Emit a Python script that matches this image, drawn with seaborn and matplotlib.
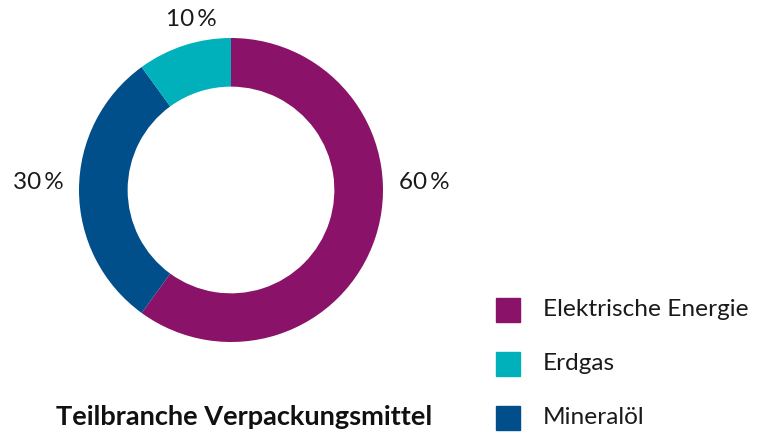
import matplotlib.pyplot as plt
import seaborn as sns
from matplotlib.patches import Rectangle

# Daten
kategorien = ['Elektrische Energie', 'Erdgas', 'Mineralöl']
anteile = [60, 10, 30]
farben = ['#8A1268', '#00B1BC', '#004F8B']
titel = 'Teilbranche Verpackungsmittel'

sns.set_style('white')
plt.rcParams['font.family'] = ['Lato', 'DejaVu Sans']

fig = plt.figure(figsize=(7.66, 4.32), dpi=100)
ax = fig.add_axes([79 / 766, 90 / 432, 304 / 766, 304 / 432])

# Reihenfolge im Uhrzeigersinn ab 12 Uhr: Elektrische Energie, Mineralöl, Erdgas
reihenfolge = [0, 2, 1]
ax.pie([anteile[i] for i in reihenfolge],
       colors=[farben[i] for i in reihenfolge],
       startangle=90, counterclock=False,
       wedgeprops=dict(width=0.32, linewidth=0))
ax.set_xlim(-1, 1)
ax.set_ylim(-1, 1)
ax.set_aspect('equal')
ax.axis('off')

# Prozentangaben
pos = {0: (1.27, 0.05), 1: (-0.26, 1.12), 2: (-1.27, 0.05)}
for i, v in enumerate(anteile):
    x, y = pos[i]
    ax.text(x, y, f'{v}\u2009%', ha='center', va='center', fontsize=17.5,
            color='#1a1a1a', clip_on=False)

# Legende
for i, (k, c) in enumerate(zip(kategorien, farben)):
    y = 1 - (310 + 54 * i) / 432
    fig.add_artist(Rectangle((496 / 766, y - 12 / 432), 24 / 766, 24 / 432,
                             color=c, transform=fig.transFigure))
    fig.text(543 / 766, y, k, ha='left', va='center', fontsize=17.6,
             color='#1a1a1a')

fig.text(244 / 766, 1 - 417 / 432, titel, ha='center', va='center',
         fontsize=19.5, fontweight='bold', color='#111111')

fig.savefig('out.png', dpi=100)
